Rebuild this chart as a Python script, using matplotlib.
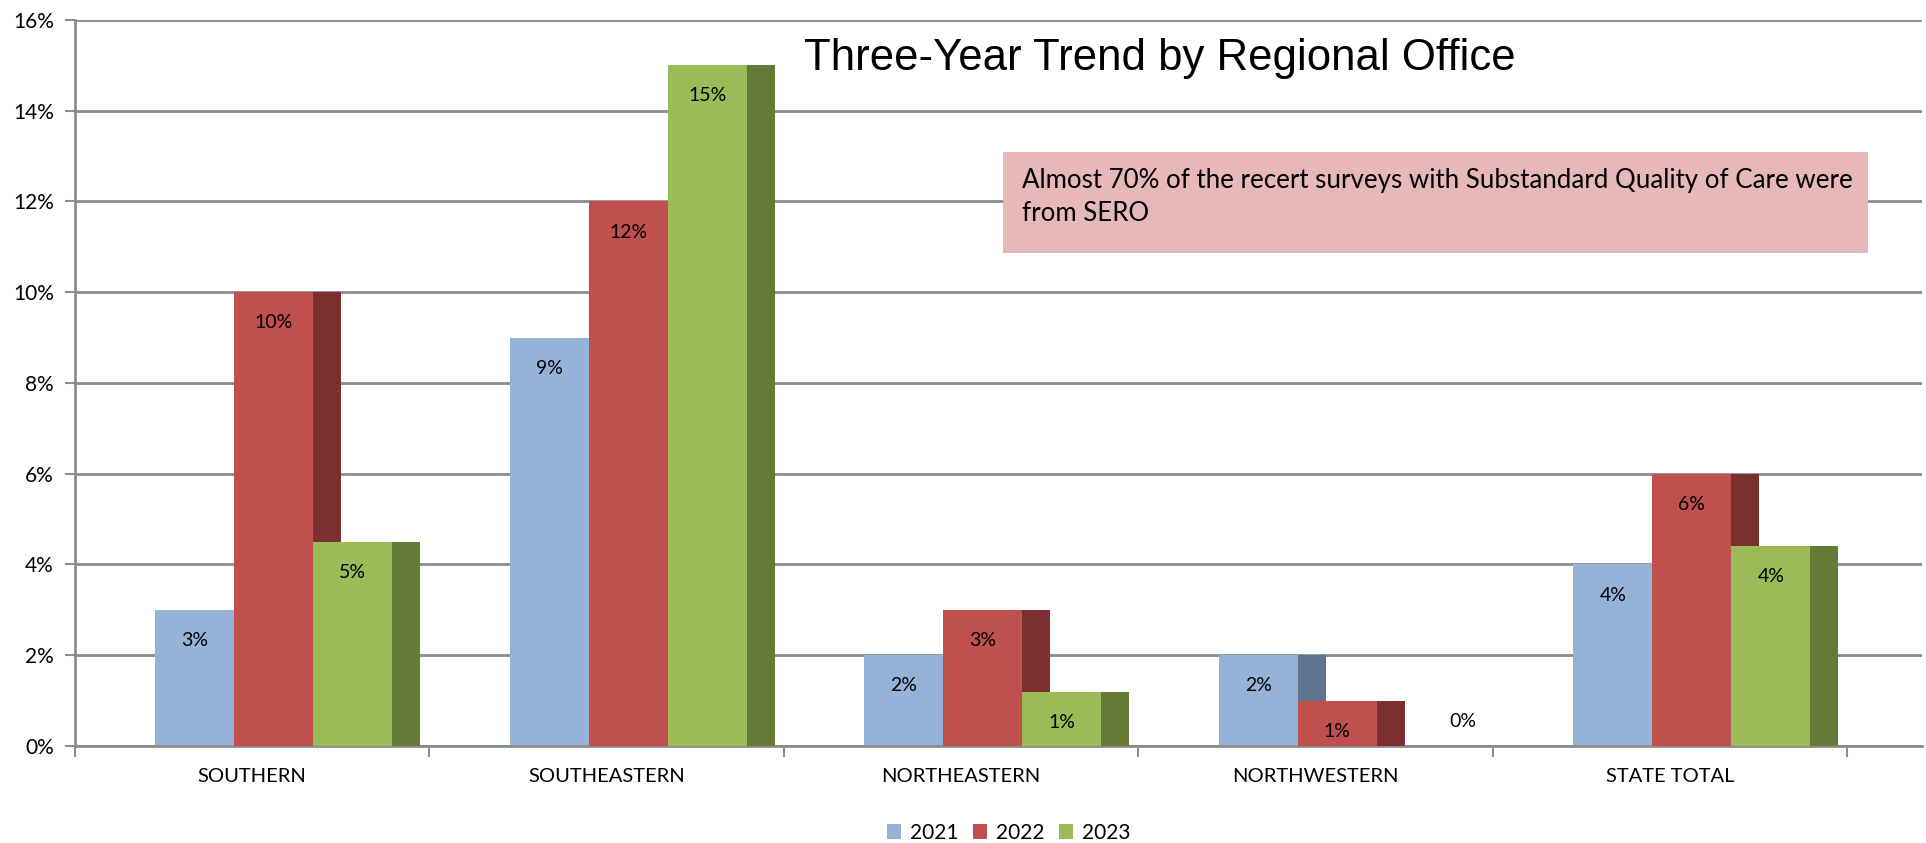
import matplotlib
matplotlib.use("Agg")
import matplotlib.pyplot as plt
from matplotlib.patches import Rectangle

# data
regions = ["SOUTHERN", "SOUTHEASTERN", "NORTHEASTERN", "NORTHWESTERN", "STATE TOTAL"]
years = ["2021", "2022", "2023"]
v2021 = [3.0, 9.0, 2.0, 2.0, 4.0]
v2022 = [10.0, 12.0, 3.0, 1.0, 6.0]
v2023 = [4.5, 15.0, 1.2, 0.0, 4.4]
lbl2021 = ["3%", "9%", "2%", "2%", "4%"]
lbl2022 = ["10%", "12%", "3%", "1%", "6%"]
lbl2023 = ["5%", "15%", "1%", "0%", "4%"]
yticks = [0, 2, 4, 6, 8, 10, 12, 14, 16]

front = ["#95b3d7", "#c0504d", "#9bbb59"]
side = ["#5f7490", "#7b2f2e", "#647a37"]
grid_c = "#8c8c8c"
body_font = ["Lato", "DejaVu Sans"]

fig = plt.figure(figsize=(19.26, 8.43), dpi=100)
ax = fig.add_axes([0.0387, 0.1151, 0.9593, 0.8612])
ax.set_xlim(-0.5, 4.711)
ax.set_ylim(0, 16)

for y in yticks:
    ax.axhline(y, color=grid_c, lw=2, zorder=0)

w = 0.223
d = 0.079
offs = [-0.273, -0.05, 0.173]
series = [v2021, v2022, v2023]
labels = [lbl2021, lbl2022, lbl2023]

for j, vals in enumerate(series):
    for i, v in enumerate(vals):
        left = i + offs[j]
        if v > 0:
            ax.add_patch(Rectangle((left + w, 0), d, v, facecolor=side[j],
                                   edgecolor="none", zorder=2 + j))
            ax.add_patch(Rectangle((left, 0), w, v, facecolor=front[j],
                                   edgecolor="none", zorder=2 + j))
            ax.annotate(labels[j][i], (left + w / 2, v), xytext=(0, -22),
                        textcoords="offset points", ha="center", va="center",
                        fontsize=14, family=body_font, zorder=10)
        else:
            ax.text(left + w / 2 + 0.13, 0.55, labels[j][i], ha="center",
                    va="center", fontsize=14, family=body_font, zorder=10)

for s in ["top", "right"]:
    ax.spines[s].set_visible(False)
ax.spines["left"].set_color(grid_c)
ax.spines["left"].set_linewidth(2)
ax.spines["bottom"].set_color(grid_c)
ax.spines["bottom"].set_linewidth(2)

ax.set_yticks(yticks)
ax.set_yticklabels([f"{t}%" for t in yticks], fontsize=15, family=body_font)
ax.tick_params(axis="y", length=7, width=1.5, color=grid_c, pad=8)

ax.set_xticks([-0.5, 0.5, 1.5, 2.5, 3.5, 4.5])
ax.set_xticklabels([])
ax.tick_params(axis="x", which="major", length=8, width=1.5, color=grid_c)
ax.set_xticks(range(len(regions)), minor=True)
ax.set_xticklabels(regions, minor=True, fontsize=14.5, family=body_font)
ax.tick_params(axis="x", which="minor", length=0, pad=16)

fig.text(0.602, 0.931, "Three-Year Trend by Regional Office", ha="center",
         va="center", fontsize=31.5, family=["Liberation Sans", "DejaVu Sans"])

# pink note box
ax.add_patch(Rectangle((2.119, 10.86), 2.44, 2.22, facecolor="#e6b8b7",
                       edgecolor="none", zorder=1))
ax.text(2.173, 10.86 + 2.22 * 0.56,
        "Almost 70% of the recert surveys with Substandard Quality of Care were\nfrom SERO",
        ha="left", va="center", fontsize=18.6, family=body_font,
        linespacing=1.4, zorder=11)

handles = [Rectangle((0, 0), 1, 1, facecolor=c, edgecolor="none") for c in front]
fig.legend(handles, years, loc="center", bbox_to_anchor=(0.5236, 0.012), ncol=3,
           frameon=False, prop={"family": body_font, "size": 15},
           handlelength=0.7, handleheight=0.7, handletextpad=0.4, columnspacing=0.7)

fig.savefig("out.png", dpi=100)
